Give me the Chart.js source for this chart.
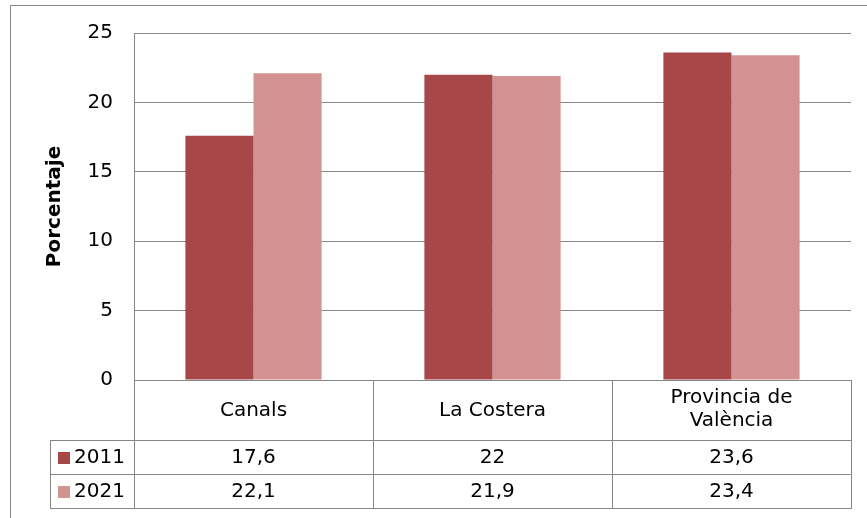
<!DOCTYPE html>
<html>
<head>
<meta charset="utf-8">
<script src="https://cdn.jsdelivr.net/npm/chart.js@4.4.1/dist/chart.umd.min.js"></script>
<style>
  html, body { margin: 0; padding: 0; background: #fff; }
  #wrap { width: 867px; height: 518px; }
</style>
</head>
<body>
<div id="wrap"><canvas id="chart" width="867" height="518"></canvas></div>
<script>
const categories = ['Canals', 'La Costera', ['Provincia de', 'València']]
const years = ['2011', '2021']
const values2011 = [17.6, 22, 23.6]
const values2021 = [22.1, 21.9, 23.4]
const yTicks = [0, 5, 10, 15, 20, 25]

const colors = ['#a84747', '#d39292']
const lineColor = '#878787'
const font = 'DejaVu Sans'

// comma decimal like the original
const fmt = (v) => String(v).replace('.', ',')

// frame + data table under the plot
const tablePlugin = {
  id: 'tablePlugin',
  beforeDraw(chart) {
    const ctx = chart.ctx
    ctx.save()
    ctx.strokeStyle = lineColor
    ctx.lineWidth = 1
    ctx.beginPath()
    ctx.moveTo(10.5, chart.height)
    ctx.lineTo(10.5, 5.5)
    ctx.lineTo(chart.width, 5.5)
    ctx.stroke()
    ctx.restore()
  },
  afterDraw(chart) {
    const ctx = chart.ctx
    const x = chart.scales.x
    const area = chart.chartArea
    const step = (area.right - area.left) / categories.length
    const top = area.bottom
    const catBottom = top + 60
    const rowH = 34
    const legendLeft = 50
    const tableBottom = catBottom + rowH * years.length

    ctx.save()
    ctx.strokeStyle = lineColor
    ctx.lineWidth = 1
    ctx.beginPath()
    // vertical lines
    for (let i = 0; i <= categories.length; i++) {
      const px = Math.round(area.left + i * step) + 0.5
      ctx.moveTo(px, top)
      ctx.lineTo(px, tableBottom)
    }
    ctx.moveTo(legendLeft + 0.5, catBottom)
    ctx.lineTo(legendLeft + 0.5, tableBottom)
    // horizontal lines
    for (let r = 0; r <= years.length; r++) {
      const py = catBottom + r * rowH + 0.5
      ctx.moveTo(legendLeft, py)
      ctx.lineTo(area.right + 1, py)
    }
    ctx.stroke()

    ctx.fillStyle = '#000'
    ctx.font = '20px "' + font + '"'
    ctx.textAlign = 'center'
    ctx.textBaseline = 'middle'
    categories.forEach((c, i) => {
      const cx = x.getPixelForValue(i)
      if (Array.isArray(c)) {
        ctx.fillText(c[0], cx, top + 18)
        ctx.fillText(c[1], cx, top + 41)
      } else {
        ctx.fillText(c, cx, top + 31)
      }
    })

    const series = [values2011, values2021]
    series.forEach((vals, r) => {
      const cy = catBottom + r * rowH + rowH / 2 + 1
      vals.forEach((v, i) => {
        ctx.fillText(fmt(v), x.getPixelForValue(i), cy)
      })
      ctx.fillStyle = colors[r]
      ctx.fillRect(58, cy - 6, 12, 12)
      ctx.fillStyle = '#000'
      ctx.textAlign = 'left'
      ctx.fillText(years[r], 74, cy)
      ctx.textAlign = 'center'
    })
    ctx.restore()
  },
}

new Chart(document.getElementById('chart'), {
  type: 'bar',
  data: {
    labels: categories,
    datasets: [
      { label: years[0], data: values2011, backgroundColor: colors[0] },
      { label: years[1], data: values2021, backgroundColor: colors[1] },
    ],
  },
  options: {
    responsive: false,
    animation: false,
    layout: { padding: { left: 10, top: 32, right: 16, bottom: 138 } },
    datasets: { bar: { categoryPercentage: 0.57, barPercentage: 1 } },
    plugins: { legend: { display: false }, tooltip: { enabled: false } },
    scales: {
      x: { display: false, offset: true },
      y: {
        min: 0,
        max: 25,
        afterBuildTicks: (s) => { s.ticks = yTicks.map((v) => ({ value: v })) },
        afterFit: (s) => { s.width = 124 },
        grid: { color: lineColor, drawTicks: false },
        border: { color: lineColor },
        ticks: { padding: 21, color: '#000', font: { family: font, size: 20 } },
        title: {
          display: true,
          text: 'Porcentaje',
          color: '#000',
          padding: { top: 33, bottom: 0 },
          font: { family: font, size: 20, weight: 'bold' },
        },
      },
    },
  },
  plugins: [tablePlugin],
})
</script>
</body>
</html>
